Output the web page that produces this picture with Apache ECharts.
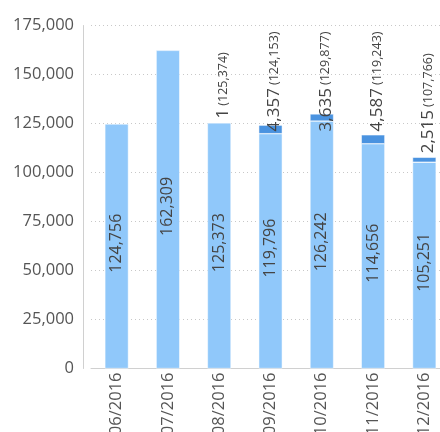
<!DOCTYPE html>
<html>
<head>
<meta charset="utf-8">
<script src="https://cdn.jsdelivr.net/npm/echarts@6/dist/echarts.min.js"></script>
<style>html,body{margin:0;padding:0;background:#fff}#c{width:440px;height:432px}</style>
</head>
<body>
<div id="c"></div>
<script>
var categories = ['06/2016','07/2016','08/2016','09/2016','10/2016','11/2016','12/2016'];
var baseValues = [124756, 162309, 125373, 119796, 126242, 114656, 105251];
var extraValues = [null, null, 1, 4357, 3635, 4587, 2515];
var yTicks = {min: 0, max: 175000, interval: 25000};

function fmt(v){ return Number(v).toLocaleString('en-US'); }

var chart = echarts.init(document.getElementById('c'), null, {renderer:'canvas'});
var FONT = '"Open Sans", "Noto Sans", sans-serif';
var GRID_TOP = 25.5;
chart.setOption({
  animation: false,
  textStyle: {fontFamily: FONT},
  grid: {left: 91, right: -10, top: GRID_TOP, bottom: 63.5, containLabel: false, outerBoundsMode: 'none'},
  xAxis: {
    type: 'category',
    data: categories,
    axisLine: {lineStyle: {color: '#d0d0d0', width: 1}},
    axisTick: {show: false},
    axisLabel: {rotate: 90, margin: 4, fontSize: 16.5, color: '#555', fontFamily: FONT, interval: 0}
  },
  yAxis: {
    type: 'value',
    min: yTicks.min, max: yTicks.max, interval: yTicks.interval,
    offset: 8,
    axisLine: {show: true, lineStyle: {color: '#d0d0d0', width: 1}},
    axisTick: {show: false},
    axisLabel: {margin: 9, fontSize: 16.5, color: '#555', fontFamily: FONT, formatter: function(v){return fmt(v);}},
    splitLine: {show: true, lineStyle: {color: '#c8c8c8', type: [1, 3], width: 1}}
  },
  series: [
    {
      type: 'bar', stack: 'total', data: baseValues, barWidth: '46%',
      itemStyle: {color: '#90c8fa', borderColor: '#fff', borderWidth: 0.5},
      label: {
        show: true, position: 'inside', rotate: 90, fontSize: 16, color: '#444', fontFamily: FONT,
        formatter: function(p){ return fmt(p.value); }
      },
      labelLayout: function(){ return {dx: 3}; }
    },
    {
      type: 'bar', stack: 'total', data: extraValues, barWidth: '46%',
      itemStyle: {color: '#4a93e0', borderColor: '#fff', borderWidth: 0.5},
      label: {
        show: true, position: 'top', distance: 4, rotate: 90, align: 'left', verticalAlign: 'middle',
        color: '#444', fontFamily: FONT,
        formatter: function(p){
          if (p.value == null) return '';
          var total = baseValues[p.dataIndex] + p.value;
          return '{a|' + fmt(p.value) + '} {b|(' + fmt(total) + ')}';
        },
        rich: {
          a: {fontSize: 17, color: '#444', fontFamily: FONT},
          b: {fontSize: 12.5, color: '#444', fontFamily: FONT}
        }
      },
      labelLayout: function(params){
        var r = params.labelRect;
        var minY = GRID_TOP + 6;
        var shift = r.y < minY ? (minY - r.y) : 0;
        // label is rotated 90deg: local x points up, local y points right
        return {dx: -shift, dy: 4};
      }
    }
  ]
});
</script>
</body>
</html>
